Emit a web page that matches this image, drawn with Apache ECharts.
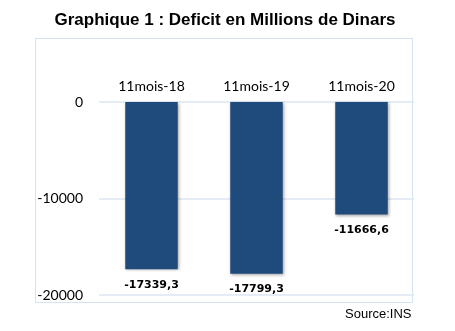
<!DOCTYPE html>
<html><head><meta charset="utf-8">
<script src="https://cdn.jsdelivr.net/npm/echarts@6/dist/echarts.min.js"></script>
<style>html,body{margin:0;padding:0;background:#fff}#c{width:455px;height:331px}</style>
</head><body><div id="c"></div>
<script>
const categories = ['11mois-18', '11mois-19', '11mois-20'];
const deficit = [-17339.3, -17799.3, -11666.6];
const yTicks = [0, -10000, -20000];

const chart = echarts.init(document.getElementById('c'), null, {renderer: 'canvas'});
chart.setOption({
  animation: false,
  backgroundColor: '#fff',
  title: {
    text: 'Graphique 1 : Deficit en Millions de Dinars',
    left: 220, textAlign: 'center', top: 7,
    textStyle: {fontFamily: 'Liberation Sans, Arial', fontWeight: 'bold', fontSize: 17, color: '#000'}
  },
  graphic: [
    {type: 'rect', shape: {x: 35.5, y: 38.5, width: 377, height: 264}, style: {fill: 'none', stroke: '#d5e2f3', lineWidth: 1}, z: 0},
    {type: 'text', left: 345, top: 308, style: {text: 'Source:INS', font: '13px "Liberation Sans", Arial', fill: '#000'}}
  ],
  grid: {left: 99, right: 41, top: 102, bottom: 36},
  xAxis: {
    type: 'category', data: categories, position: 'top',
    axisLine: {show: false}, axisTick: {show: false},
    axisLabel: {fontFamily: 'Lato', fontSize: 14, color: '#000', margin: 9}
  },
  yAxis: {
    type: 'value', min: -20000, max: 0, interval: 10000,
    axisLine: {show: false}, axisTick: {show: false},
    axisLabel: {fontFamily: 'Lato', fontSize: 14, color: '#000', margin: 16,
      formatter: v => yTicks.includes(v) ? String(v) : ''},
    splitLine: {lineStyle: {color: '#dce6f2', width: 1.5}}
  },
  series: [{
    type: 'bar', data: deficit, barWidth: '50%',
    itemStyle: {color: '#1f4a7c', shadowColor: 'rgba(0,0,0,0.35)', shadowBlur: 3, shadowOffsetX: 1, shadowOffsetY: 1},
    label: {show: true, position: 'bottom', distance: 10,
      fontFamily: 'DejaVu Sans', fontWeight: 'bold', fontSize: 11, color: '#000',
      formatter: p => String(p.value).replace('.', ',')}
  }]
});
</script></body></html>
